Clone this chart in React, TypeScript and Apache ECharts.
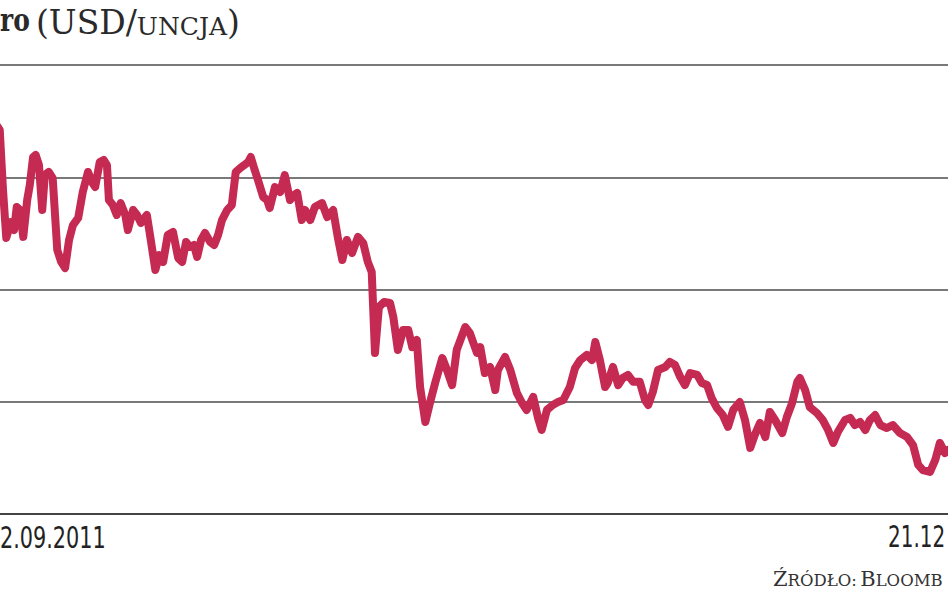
import React, { useEffect, useRef } from "react";
import * as echarts from "echarts";

// Srebro (silver), USD per ounce. Days counted from 22.09.2011.
const START = Date.UTC(2011, 8, 22);
const DAY = 86400000;

const dayOffsets = [
  0, 9, 17, 21, 26, 31, 38, 43, 47, 52, 57, 63, 67, 72, 76, 81, 86, 90, 96, 102,
  109, 115, 121, 127, 133, 141, 148, 156, 162, 167, 174, 180, 185, 188, 194, 200, 206, 213, 217, 225,
  231, 237, 246, 252, 259, 265, 271, 278, 286, 294, 300, 306, 312, 318, 323, 329, 335, 343, 349, 355,
  361, 369, 376, 382, 389, 395, 401, 405, 411, 416, 424, 430, 434, 442, 450, 457, 465, 471, 476, 483,
  488, 496, 503, 514, 522, 531, 538, 545, 552, 560, 569, 577, 584, 590, 595, 601, 609, 618, 623, 630,
  638, 646, 652, 659, 664, 672, 679, 687, 698, 705, 713, 720, 733, 740, 751, 756, 763, 771, 779, 783,
  794, 802, 812, 820, 827, 837, 844, 850, 858, 867, 875, 883, 893, 901, 909, 919, 927, 932, 939, 947,
  951, 959, 967, 974, 982, 990, 1000, 1008, 1013, 1020, 1028, 1039, 1046, 1054, 1062, 1069, 1077, 1088, 1095, 1103,
  1110, 1118, 1127, 1135, 1143, 1153, 1161, 1169, 1176, 1184, 1192, 1199, 1207, 1218, 1225, 1233, 1241, 1245, 1253, 1260,
  1271, 1280, 1288, 1296, 1303, 1314, 1322, 1329, 1337, 1345, 1352, 1360, 1368, 1378, 1387, 1398, 1409, 1418, 1426, 1433,
  1444, 1452, 1459, 1467, 1471, 1482,
];

const prices = [
  39.19, 38.7, 38.2, 37.95, 34.21, 31.21, 32.21, 31.71, 33.14, 32.96, 31.28, 33.58, 34.52, 36.26, 36.39, 35.76, 32.96, 35.14, 35.33, 34.95,
  30.46, 29.72, 29.34, 31.09, 32.02, 32.46, 34.08, 35.33, 34.7, 34.39, 35.95, 36.08, 35.76, 33.58, 33.27, 32.65, 33.39, 32.65, 31.71, 32.96,
  32.65, 32.15, 32.65, 31.09, 29.22, 30.15, 29.72, 31.4, 31.59, 29.96, 29.72, 30.96, 30.65, 30.78, 30.03, 31.09, 31.52, 30.96, 30.78, 31.4,
  32.33, 32.96, 33.27, 35.33, 35.58, 35.76, 35.95, 36.26, 35.45, 34.83, 33.77, 33.58, 33.08, 34.39, 34.08, 35.14, 33.58, 33.89, 34.02, 32.33,
  32.96, 32.33, 33.14, 33.39, 32.52, 32.96, 31.28, 29.84, 31.09, 30.28, 31.28, 30.9, 29.72, 29.09, 24.04, 26.91, 27.22, 27.16, 26.29, 24.23,
  25.47, 25.47, 24.41, 24.85, 21.92, 19.74, 20.92, 22.17, 23.73, 22.98, 22.04, 24.23, 25.66, 25.29, 24.04, 24.41, 22.79, 23.17, 21.73, 22.98,
  23.79, 22.98, 21.55, 20.92, 20.49, 21.3, 20.05, 19.24, 20.49, 20.8, 20.98, 21.11, 21.92, 23.1, 23.6, 23.92, 23.6, 24.73, 23.6, 21.92,
  22.17, 23.17, 22.04, 22.48, 22.67, 22.24, 22.24, 21.11, 20.8, 21.61, 22.98, 23.17, 23.48, 23.29, 22.54, 22.04, 22.79, 22.67, 22.17, 22.04,
  21.23, 20.61, 20.17, 19.43, 20.49, 20.98, 19.86, 18.12, 18.93, 19.68, 18.8, 20.36, 19.86, 19.05, 20.05, 20.92, 22.24, 22.48, 21.73, 20.67,
  20.3, 19.86, 19.24, 18.43, 19.11, 19.86, 19.99, 19.55, 19.74, 19.24, 19.86, 20.17, 19.55, 19.36, 19.55, 19.05, 18.8, 18.3, 17.06, 16.74,
  16.62, 17.37, 18.43, 17.8, 17.99, 17.68,
];

const yTicks = { min: 14, max: 42, interval: 7 };
const visibleDays = { from: 21.4, to: 1471.5 };

// Texts as they are visible in the (cropped) reference picture
const titleBold = "ro";
const titleUnit = "(USD/{s|UNCJA})";
const firstDate = "2.09.2011";
const lastDate = "21.12";
const source = "{c|Ź}{s|RÓDŁO:} {c|B}{s|LOOMB}";

export default function App() {
  const ref = useRef<HTMLDivElement>(null);
  useEffect(() => {
    if (!ref.current) return;
    const chart = echarts.init(ref.current, null, { renderer: "svg" });
    const data = dayOffsets.map((d, i) => [START + d * DAY, prices[i]]);
    const serif = "'DejaVu Serif', serif";
    const narrow = "'Liberation Sans Narrow', 'DejaVu Sans Condensed', 'Roboto', sans-serif";
    chart.setOption({
      animation: false,
      backgroundColor: "#ffffff",
      grid: { left: 0, right: 0, top: 65, bottom: 79 },
      xAxis: {
        type: "time",
        min: START + visibleDays.from * DAY,
        max: START + visibleDays.to * DAY,
        axisLine: { show: true, lineStyle: { color: "#444", width: 2 } },
        axisTick: { show: false },
        axisLabel: { show: false },
        splitLine: { show: false },
      },
      yAxis: {
        type: "value",
        min: yTicks.min,
        max: yTicks.max,
        interval: yTicks.interval,
        axisLine: { show: false },
        axisTick: { show: false },
        axisLabel: { show: false },
        splitLine: { show: true, lineStyle: { color: "#4d4d4d", width: 1.5 } },
      },
      series: [
        {
          type: "line",
          data,
          showSymbol: false,
          symbol: "none",
          smooth: false,
          clip: true,
          lineStyle: { color: "#c42a52", width: 8, cap: "round", join: "round" },
        },
      ],
      graphic: [
        {
          type: "text",
          x: 0,
          y: 36,
          scaleX: 0.78,
          style: {
            text: titleBold,
            font: `bold 32px ${serif}`,
            fill: "#2a2a2a",
            verticalAlign: "bottom",
            textVerticalAlign: "bottom",
          },
        },
        {
          type: "text",
          x: 36,
          y: 39,
          style: {
            text: titleUnit,
            font: `33px ${serif}`,
            fill: "#2a2a2a",
            verticalAlign: "bottom",
            textVerticalAlign: "bottom",
            rich: { s: { fontSize: 25, fontFamily: "DejaVu Serif", fill: "#2a2a2a", verticalAlign: "bottom" } },
          },
        },
        {
          type: "text",
          x: 0,
          y: 522,
          scaleX: 0.77,
          style: { text: firstDate, font: `30px ${narrow}`, fill: "#222" },
        },
        {
          type: "text",
          x: 888,
          y: 522,
          scaleX: 0.74,
          style: { text: lastDate, font: `30px ${narrow}`, fill: "#222" },
        },
        {
          type: "text",
          x: 773,
          y: 568,
          style: {
            text: source,
            fill: "#333",
            rich: {
              c: { fontSize: 21, fontFamily: "DejaVu Serif", fill: "#333", verticalAlign: "bottom" },
              s: { fontSize: 16.5, fontFamily: "DejaVu Serif", fill: "#333", verticalAlign: "bottom" },
            },
          },
        },
      ],
    });
    return () => chart.dispose();
  }, []);
  return (
    <div
      ref={ref}
      style={{ position: "fixed", left: 0, top: 0, width: 948, height: 593, background: "#fff" }}
    />
  );
}
